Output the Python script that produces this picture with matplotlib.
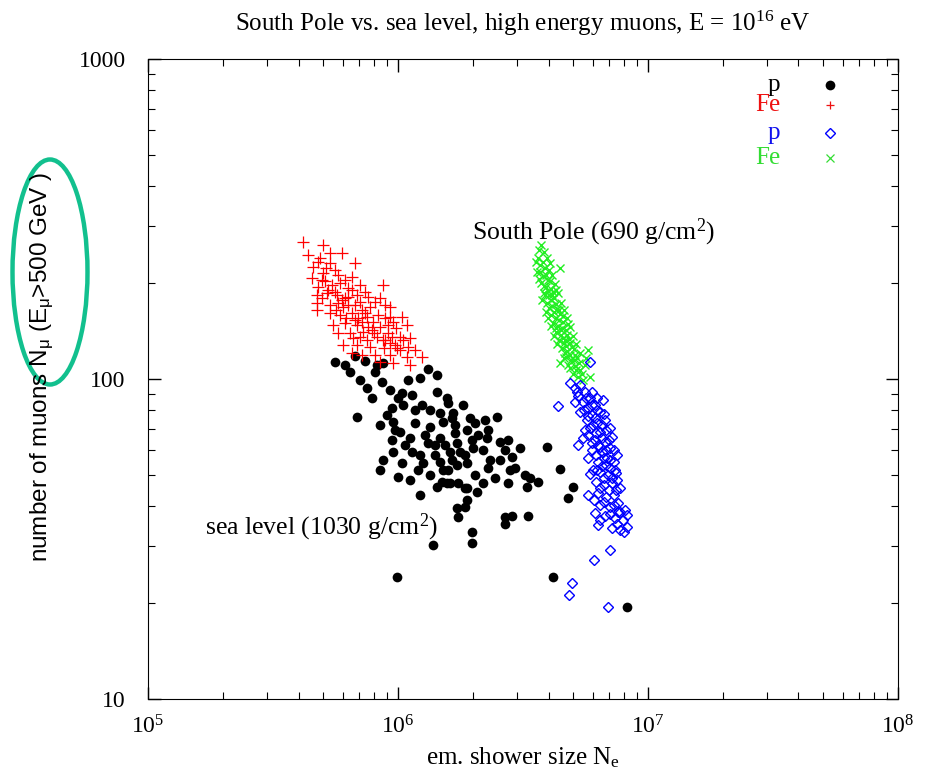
import numpy as np
import matplotlib
matplotlib.use("Agg")
import matplotlib.pyplot as plt
from matplotlib.patches import Ellipse
from matplotlib.ticker import FuncFormatter, LogLocator, NullFormatter

# ----------------------------
# Data (Ne in units of 1e6, N_mu = muon number)
# ----------------------------

# sea level, protons (black filled circles)
ne_sea_p = [0.560, 0.673, 0.738, 0.824, 0.809, 0.871, 1.318, 1.432, 0.752, 0.863,
            1.096, 1.225, 0.787, 1.038, 1.138, 1.432, 1.570, 0.686, 0.946, 1.047,
            1.247, 1.343, 1.472, 1.644, 1.820, 0.847, 0.955, 1.019, 1.169, 1.343,
            1.514, 1.690, 1.888, 0.946, 1.067, 1.138, 1.318, 1.472, 1.722, 1.977,
            0.955, 1.225, 1.406, 1.614, 1.854, 0.871, 1.038, 1.259, 1.472, 1.722,
            0.847, 1.000, 1.343, 1.500, 1.614, 1.738, 1.225, 1.432, 1.888, 1.888,
            1.585, 1.660, 2.032, 2.228, 2.489, 2.089, 2.270, 2.559, 2.754, 3.076,
            3.945, 1.542, 1.770, 1.995, 2.188, 1.644, 1.888, 2.333, 2.559, 2.858,
            1.514, 2.291, 2.805, 2.938, 4.446, 3.221, 3.373, 3.631, 2.754, 3.281,
            1.570, 1.854, 2.070, 2.188, 5.012, 4.786, 1.722, 1.854, 1.738, 2.679,
            2.858, 2.679, 3.311, 1.977, 1.977, 1.380, 0.991, 4.169, 8.241, 0.904,
            0.973, 1.117, 1.282, 1.406, 1.202, 1.117, 1.585, 2.032, 2.443, 2.679,
            2.291, 1.941, 1.690, 1.169, 1.000, 0.929, 0.705, 0.643, 0.614]
nmu_sea_p = [113, 118, 114, 111, 105, 112, 107.5, 103, 93.7, 97.9,
             99.3, 100.7, 87.2, 90.4, 89.1, 91.1, 87.2, 76.1, 81.2, 82.9,
             82.9, 80.0, 78.3, 75.5, 82.9, 71.8, 73.4, 68.3, 72.9, 70.8,
             73.4, 67.8, 69.3, 64.5, 62.2, 59.1, 63.1, 65.4, 63.1, 64.5,
             59.1, 57.9, 57.9, 59.1, 57.9, 55.8, 54.6, 54.6, 55.0, 53.8,
             51.9, 49.4, 50.1, 47.6, 47.3, 47.3, 43.4, 46.0, 45.6, 41.9,
             84.1, 78.3, 72.9, 74.5, 76.1, 66.8, 65.4, 63.5, 64.5, 60.9,
             61.3, 62.2, 59.1, 60.9, 60.0, 55.8, 54.6, 55.8, 55.8, 57.0,
             51.9, 52.7, 51.9, 52.7, 52.3, 50.1, 49.0, 47.6, 47.3, 46.0,
             47.3, 45.6, 44.3, 47.3, 46.0, 42.5, 39.5, 39.8, 37.0, 37.0,
             37.3, 35.2, 37.3, 33.2, 30.7, 30.3, 24.0, 24.0, 19.4, 77.2,
             69.3, 65.4, 66.8, 62.2, 51.9, 48.3, 51.9, 50.1, 49.0, 60.0,
             69.3, 75.5, 71.8, 80.0, 87.2, 92.4, 99.3, 105, 110.6]

# sea level, iron (red plus)
ne_sea_fe = [0.417, 0.501, 0.535, 0.597, 0.673, 0.535, 0.457, 0.501, 0.575, 0.655,
             0.453, 0.479, 0.545, 0.586, 0.631, 0.705, 0.871, 0.474, 0.520, 0.570,
             0.614, 0.686, 0.759, 0.847, 0.474, 0.535, 0.603, 0.673, 0.718, 0.773,
             0.929, 0.535, 0.586, 0.655, 0.692, 0.752, 0.832, 0.929, 1.038, 0.550,
             0.614, 0.686, 0.759, 0.847, 0.955, 1.086, 0.575, 0.643, 0.724, 0.824,
             0.871, 0.929, 1.019, 1.117, 0.603, 0.686, 0.773, 0.991, 1.096, 1.169,
             0.655, 0.809, 0.929, 1.086, 1.247, 0.955, 1.117, 0.847, 0.560, 0.597,
             0.575, 0.631, 0.705, 0.738, 0.673, 0.887, 0.946, 0.912, 0.787, 0.510,
             0.487, 0.437, 0.479, 0.515, 0.560, 0.497, 0.614, 0.525, 0.655, 0.738,
             0.497, 0.631, 0.809, 0.887, 0.565, 0.620, 0.718, 0.794, 0.887, 0.982,
             0.661, 0.752, 0.802, 0.879, 1.019, 0.718, 1.047, 0.973, 0.912, 0.705,
             0.474]
nmu_sea_fe = [268, 262, 248, 248, 230, 230, 224, 214, 211, 208,
              207, 194, 197, 200, 192, 197, 197, 183, 186, 183,
              179, 183, 180, 179, 173, 170, 168, 170, 164, 168,
              168, 161, 158, 161, 155, 156, 158, 156, 156, 148,
              150, 148, 145, 145, 151, 148, 139, 139, 140, 135,
              132, 130, 135, 134, 128, 128, 126, 125, 126, 123,
              120.5, 119, 119, 117, 117, 112, 111, 113, 187, 176,
              173, 180, 174, 161, 153, 132, 135, 139, 142, 202,
              239, 244, 232, 222, 219, 204, 204, 190, 190, 187,
              179, 170, 174, 170, 164, 155, 151, 151, 155, 144,
              134, 132, 139, 125, 123, 119, 132, 128, 148, 135,
              164]

# South Pole, protons (blue open diamonds)
ne_sp_p = [5.86, 4.88, 5.11, 5.35, 5.60, 5.25, 5.86, 5.50, 4.37, 5.75,
           6.14, 5.35, 5.97, 6.43, 5.70, 6.25, 6.73, 5.86, 6.43, 7.05,
           5.50, 6.14, 6.73, 7.18, 5.25, 5.97, 6.55, 7.05, 7.52, 5.75,
           6.31, 6.79, 7.31, 6.43, 6.92, 7.45, 6.19, 6.67, 7.18, 7.73,
           5.75, 6.31, 6.79, 7.31, 6.43, 7.05, 7.59, 8.09, 6.14, 6.73,
           7.38, 7.94, 8.24, 7.18, 7.73, 8.24, 7.05, 6.08, 4.97, 4.83,
           6.92, 5.60, 6.61, 7.38, 6.31, 6.98, 7.59, 6.03, 6.86,
           5.20, 5.97, 5.65, 6.25, 5.11, 5.97, 5.55, 6.25, 6.67, 5.75,
           6.14, 6.55, 6.03, 6.79, 6.19, 5.75, 6.55, 6.98, 5.97, 6.43,
           6.79, 7.31, 6.19, 6.67, 7.05, 6.55, 7.05, 6.25, 6.67, 7.18,
           7.52, 6.43, 7.45, 6.08, 6.67, 7.31, 7.73, 7.05, 6.43, 7.52,
           8.02, 5.86, 6.31]
nmu_sp_p = [113, 97.2, 93.7, 95.8, 91.1, 88.5, 87.2, 84.7, 82.3, 81.2,
            82.9, 78.9, 77.2, 78.9, 74.5, 72.9, 74.5, 70.3, 68.3, 70.3,
            65.4, 64.5, 63.5, 65.9, 62.2, 60.0, 59.1, 60.9, 57.9, 56.6,
            55.0, 53.8, 55.0, 51.2, 50.1, 50.8, 47.6, 46.6, 47.3, 45.6,
            43.4, 44.0, 42.8, 43.4, 40.4, 39.8, 41.0, 39.0, 38.1, 37.3,
            36.8, 36.3, 37.6, 34.2, 33.8, 34.5, 29.2, 27.2, 23.0, 21.1,
            19.4, 69.3, 86.0, 51.9, 62.2, 45.0, 38.4, 51.9, 56.6,
            91.1, 91.1, 87.2, 87.2, 84.7, 82.9, 80.0, 80.0, 77.7, 76.6,
            75.5, 71.8, 71.8, 69.3, 67.8, 66.8, 65.4, 64.5, 63.1, 61.3,
            60.0, 60.0, 57.9, 56.6, 55.8, 53.4, 52.7, 51.9, 49.0, 49.0,
            48.3, 45.6, 45.0, 41.9, 41.3, 40.4, 38.4, 37.9, 36.3, 35.2,
            33.2, 50.5, 35.0]

# South Pole, iron (green crosses)
ne_sp_fe = [3.73, 3.84, 3.63, 3.95, 4.45, 3.70, 3.87, 4.06, 3.60, 3.80,
            3.98, 4.13, 3.73, 3.91, 4.09, 4.25, 3.84, 4.02, 4.21, 4.37,
            3.95, 4.13, 4.33, 4.49, 3.91, 4.09, 4.29, 4.45, 4.61, 4.17,
            4.37, 4.57, 4.74, 4.29, 4.49, 4.70, 4.88, 4.41, 4.61, 4.83,
            5.01, 4.53, 4.74, 4.97, 5.15, 4.45, 4.70, 4.92, 5.11, 5.35,
            5.75, 4.88, 5.11, 5.35, 5.60, 5.25, 5.86, 5.01, 5.50, 3.57,
            4.02, 4.17, 4.66, 5.20, 4.79,
            3.66, 3.80, 3.91, 3.66, 4.06, 3.84, 3.98, 4.29, 3.77, 4.09,
            4.29, 4.02, 4.21, 3.98, 4.41, 4.57, 4.09, 4.29, 4.49, 4.21,
            4.57, 4.74, 4.33, 4.70, 4.88, 5.06, 4.66, 4.88, 4.61, 5.06,
            4.79, 5.30, 5.15, 5.45, 5.65, 4.53, 3.87, 3.70, 4.13, 4.41]
nmu_sp_fe = [262, 249, 239, 239, 222, 227, 222, 230, 216, 210,
             204, 211, 200, 194, 191, 198, 186, 183, 179, 186,
             173, 169, 166, 173, 162, 158, 155, 160, 164, 150,
             146, 151, 155, 140, 137, 142, 145, 132, 130, 133,
             136, 125, 122, 126, 129, 112, 117, 115, 119, 121,
             123, 108, 110, 107, 111, 101.5, 101.5, 104, 99.3, 232,
             219, 187, 132, 116, 149,
             253, 232, 211, 206, 202, 195, 188, 190, 177, 176,
             172, 167, 162, 155, 153, 157, 146, 144, 142, 136,
             134, 137, 129, 127, 130, 124, 121, 119, 116, 115,
             111, 112, 107, 104, 116, 144, 183, 216, 183, 164]

series_labels = ["p", "Fe", "p", "Fe"]
series_colors = ["black", "#ee1111", "#1111ee", "#33dd33"]

# ----------------------------
# Style
# ----------------------------

plt.rcParams["font.family"] = "Liberation Serif"
plt.rcParams["mathtext.fontset"] = "custom"
plt.rcParams["mathtext.rm"] = "Liberation Serif"
plt.rcParams["mathtext.it"] = "Liberation Serif:italic"
plt.rcParams["mathtext.sf"] = "Liberation Sans"

fig = plt.figure(figsize=(9.35, 7.78), dpi=100)
ax = fig.add_axes([0.1583, 0.1015, 0.8021, 0.8226])

# ----------------------------
# Scatter
# ----------------------------

ax.plot(np.array(ne_sea_p) * 1e6, nmu_sea_p, "o", color="black", ms=7, mew=0)
ax.plot(np.array(ne_sea_fe) * 1e6, nmu_sea_fe, "+", color="red", ms=8, mew=0.9)
ax.plot(np.array(ne_sp_fe) * 1e6, nmu_sp_fe, "x", color="#22ee22", ms=6, mew=1.0)
ax.plot(np.array(ne_sp_p) * 1e6, nmu_sp_p, "D", mfc="none", mec="blue", ms=5.2, mew=1.0)

ax.set_xscale("log")
ax.set_yscale("log")
ax.set_xlim(1e5, 1e8)
ax.set_ylim(10, 1000)

# ticks
ax.xaxis.set_major_locator(LogLocator(base=10, numticks=10))
ax.xaxis.set_minor_locator(LogLocator(base=10, subs=np.arange(2, 10), numticks=20))
ax.yaxis.set_minor_locator(LogLocator(base=10, subs=np.arange(2, 10), numticks=20))
ax.xaxis.set_major_formatter(FuncFormatter(
    lambda v, p: r"$\mathregular{10^{%d}}$" % round(np.log10(v))))
ax.yaxis.set_major_formatter(FuncFormatter(lambda v, p: f"{v:g}"))
ax.xaxis.set_minor_formatter(NullFormatter())
ax.yaxis.set_minor_formatter(NullFormatter())
ax.tick_params(which="both", direction="in", top=True, right=True, labelsize=17)
ax.tick_params(which="major", length=9, width=1)
ax.tick_params(which="minor", length=5, width=0.8)
ax.tick_params(axis="x", pad=12)
ax.tick_params(axis="y", pad=16)

# labels
ax.set_title(r"South Pole vs. sea level, high energy muons, E = 10$^{\mathregular{16}}$ eV",
             fontsize=18, pad=20)
ax.set_xlabel(r"em. shower size N$_{\mathregular{e}}$", fontsize=18, labelpad=5)
fig.text(42 / 935, 1 - 367 / 778,
         r"number of muons N$_{\mathsf{μ}}$ (E$_{\mathsf{μ}}$>500 GeV )",
         rotation=90, ha="center", va="center", fontsize=17.5, family="Liberation Sans")

ax.text(1.98e6, 288, r"South Pole (690 g/cm$^{\mathregular{2}}$)", fontsize=18.5,
        ha="left", va="center")
ax.text(1.69e5, 34.5, r"sea level (1030 g/cm$^{\mathregular{2}}$)", fontsize=18.5,
        ha="left", va="center")

# key (gnuplot style: label right-aligned, sample to the right)
key_y = [0.959, 0.928, 0.884, 0.845]
key_marker = ["o", "+", "D", "x"]
for lab, col, ky, mk in zip(series_labels, series_colors, key_y, key_marker):
    ax.text(0.843, ky, lab, color=col, fontsize=18, ha="right", va="center",
            transform=ax.transAxes)
    if mk == "D":
        ax.plot([0.909], [ky], mk, mfc="none", mec="blue", ms=5, mew=1.0,
                transform=ax.transAxes)
    elif mk == "o":
        ax.plot([0.909], [ky], mk, color="black", ms=7, mew=0, transform=ax.transAxes)
    else:
        ax.plot([0.909], [ky], mk, color=col, ms=6, mew=0.9, transform=ax.transAxes)

# highlight ellipse round the y label
fig.add_artist(Ellipse((50 / 935, 1 - 272 / 778), 75 / 935, 225 / 778,
                       transform=fig.transFigure, fill=False,
                       edgecolor="#12c08e", linewidth=3.2))

fig.savefig("out.png", dpi=100)
